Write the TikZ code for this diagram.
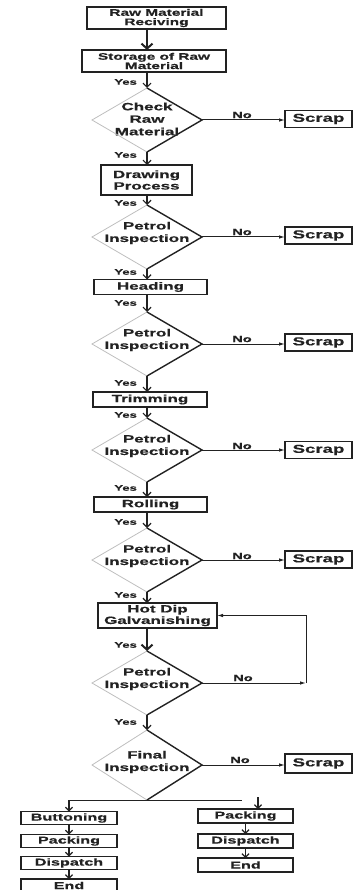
\documentclass[tikz,border=0pt]{standalone}
\usepackage{fontspec}
\newfontfamily\ff{Liberation Sans}[FakeStretch=1.62,FakeBold=0.6]
\usetikzlibrary{shapes.geometric,arrows.meta}
\definecolor{ink}{HTML}{222222}
\definecolor{faint}{HTML}{BEBEBE}
\begin{document}
\begin{tikzpicture}[x=1pt,y=-1pt,
  box/.style={draw=ink, line width=1.1pt, inner sep=0pt, outer sep=0pt, align=center, text=ink,
    font=\ff\bfseries\fontsize{10.5}{11.5}\selectfont},
  scrap/.style={box, minimum width=67pt, minimum height=17pt, font=\ff\bfseries\fontsize{11.5}{12}\selectfont},
  lowbox/.style={box, minimum height=13pt, font=\ff\bfseries\fontsize{10}{11}\selectfont},
  dia/.style={diamond, draw=none, inner sep=0pt, outer sep=0pt, minimum width=110pt, minimum height=64pt},
  dtext/.style={align=center, text=ink, inner sep=0pt, font=\ff\bfseries\fontsize{10.5}{12.5}\selectfont},
  yes/.style={text=ink, inner sep=0pt, anchor=east, font=\ff\bfseries\fontsize{8}{8}\selectfont},
  no/.style={text=ink, inner sep=0pt, font=\ff\bfseries\fontsize{9}{10}\selectfont},
  varr/.style={draw=ink, line width=1.2pt, -{Straight Barb[length=4pt,width=8pt,line width=1.2pt]}},
  barr/.style={draw=ink, line width=2pt, -{Straight Barb[length=5pt,width=11pt,line width=2pt]}},
  narr/.style={draw=ink, line width=1pt, -{Latex[length=6pt,width=3.5pt]}},
  sarr/.style={draw=ink, line width=1.2pt, -{Straight Barb[length=3.5pt,width=7pt,line width=1.2pt]}},
]
\useasboundingbox (0,0) rectangle (361,890);

% main column boxes
\node[box, font=\ff\bfseries\fontsize{9.5}{9.3}\selectfont, minimum width=139pt, minimum height=22pt] (b1) at (156.5,18) {Raw Material\\Reciving};
\node[box, font=\ff\bfseries\fontsize{9.5}{9.3}\selectfont, minimum width=144pt, minimum height=22pt] (b2) at (154,61) {Storage of Raw\\Material};
\node[dia] (d1) at (147,120) {};
\node[dtext] (t1) at (147,119) {Check\\Raw\\Material};
\node[box, minimum width=91pt, minimum height=30pt] (b3) at (146.5,180) {Drawing\\Process};
\node[dia] (d2) at (147,237) {};
\node[dtext] (t2) at (147,233) {Petrol\\Inspection};
\node[box, minimum width=113pt, minimum height=15pt] (b4) at (150.5,287) {Heading};
\node[dia] (d3) at (147,344) {};
\node[dtext] (t3) at (147,340) {Petrol\\Inspection};
\node[box, minimum width=114pt, minimum height=15pt] (b5) at (150,399.5) {Trimming};
\node[dia] (d4) at (147,450) {};
\node[dtext] (t4) at (147,446) {Petrol\\Inspection};
\node[box, minimum width=113pt, minimum height=15pt] (b6) at (150.5,504.5) {Rolling};
\node[dia] (d5) at (147,560) {};
\node[dtext] (t5) at (147,556) {Petrol\\Inspection};
\node[box, minimum width=119pt, minimum height=25pt] (b7) at (157.5,615.5) {Hot Dip\\Galvanishing};
\node[dia] (d6) at (147,683) {};
\node[dtext] (t6) at (147,679) {Petrol\\Inspection};
\node[dia, minimum height=70pt] (d7) at (147,765) {};
\node[dtext] (t7) at (147,762) {Final\\Inspection};

% diamond outlines: faint left half, dark right half
\foreach \d in {d1,d2,d3,d4,d5,d6,d7}{
  \draw[faint, line width=0.8pt] (\d.north) -- (\d.west) -- (\d.south);
  \draw[ink, line width=1.4pt, line join=miter] (\d.north) -- (\d.east) -- (\d.south);
}

% scrap boxes
\node[scrap] (s1) at (318.5,119) {Scrap};
\node[scrap] (s2) at (318.5,235.5) {Scrap};
\node[scrap] (s3) at (318.5,342.5) {Scrap};
\node[scrap] (s4) at (318.5,450) {Scrap};
\node[scrap] (s5) at (318.5,559.5) {Scrap};
\node[scrap, minimum height=19pt] (s7) at (318.5,763.5) {Scrap};

% vertical connectors
\draw[barr] (b1.south -| d1) -- (b2.north -| d1);
\draw[varr] (b2.south -| d1) -- (d1.north);
\draw[varr] (d1.south) -- (b3.north -| d1);
\draw[varr] (b3.south -| d1) -- (d2.north);
\draw[varr] (d2.south) -- (b4.north -| d2);
\draw[varr] (b4.south -| d2) -- (d3.north);
\draw[varr] (d3.south) -- (b5.north -| d3);
\draw[varr] (b5.south -| d3) -- (d4.north);
\draw[varr] (d4.south) -- (b6.north -| d4);
\draw[varr] (b6.south -| d4) -- (d5.north);
\draw[varr] (d5.south) -- (b7.north -| d5);
\draw[barr] (b7.south -| d5) -- (d6.north);
\draw[varr] (d6.south) -- (d7.north);

% Yes labels
\node[yes] (y1) at (137,82) {Yes};
\node[yes] (y2) at (137,155) {Yes};
\node[yes] (y3) at (137,203) {Yes};
\node[yes] (y4) at (137,272) {Yes};
\node[yes] (y5) at (137,303) {Yes};
\node[yes] (y6) at (137,383) {Yes};
\node[yes] (y7) at (137,415) {Yes};
\node[yes] (y8) at (137,488) {Yes};
\node[yes] (y9) at (137,522) {Yes};
\node[yes] (y10) at (137,595) {Yes};
\node[yes] (y11) at (137,645) {Yes};
\node[yes] (y12) at (137,722) {Yes};

% No branches
\draw[narr] (d1.east) -- (d1.east -| s1.west);
\draw[narr] (d2.east) -- (d2.east -| s2.west);
\draw[narr] (d3.east) -- (d3.east -| s3.west);
\draw[narr] (d4.east) -- (d4.east -| s4.west);
\draw[narr] (d5.east) -- (d5.east -| s5.west);
\draw[narr] (d7.east) -- (d7.east -| s7.west);
\node[no] (n1) at (242,115) {No};
\node[no] (n2) at (242,232) {No};
\node[no] (n3) at (242,339) {No};
\node[no] (n4) at (242,446) {No};
\node[no] (n5) at (242,556) {No};
\node[no] (n6) at (243,678) {No};
\node[no] (n7) at (240,760) {No};

% feedback loop
\coordinate (c1) at (306,683);
\coordinate (c2) at (306,615.5);
\draw[narr] (d6.east) -- (c1);
\draw[narr] (c1) -- (c2) -- (b7.east);

% bottom branches
\node[lowbox, minimum width=96pt] (l1) at (69,818) {Buttoning};
\node[lowbox, minimum width=96pt] (l2) at (69,841) {Packing};
\node[lowbox, minimum width=96pt] (l3) at (69,863) {Dispatch};
\node[lowbox, minimum width=96pt] (l4) at (69,885.5) {End};
\node[lowbox, minimum width=95pt, minimum height=14pt] (r1) at (245.5,816) {Packing};
\node[lowbox, minimum width=95pt, minimum height=14pt] (r2) at (245.5,841) {Dispatch};
\node[lowbox, minimum width=95pt, minimum height=14pt] (r3) at (245.5,865) {End};

\coordinate (sp2) at (242,800);
\draw[ink, line width=1pt] (l1.north |- d7.south) -- (sp2);
\draw[sarr] (l1.north |- d7.south) -- (l1.north);
\coordinate (sp3) at (258,797);
\draw[sarr] (sp3) -- (sp3 |- r1.north);
\draw[sarr] (l1.south) -- (l2.north);
\draw[sarr] (l2.south) -- (l3.north);
\draw[sarr] (l3.south) -- (l4.north);
\draw[sarr] (r1.south) -- (r2.north);
\draw[sarr] (r2.south) -- (r3.north);
\end{tikzpicture}
\end{document}
